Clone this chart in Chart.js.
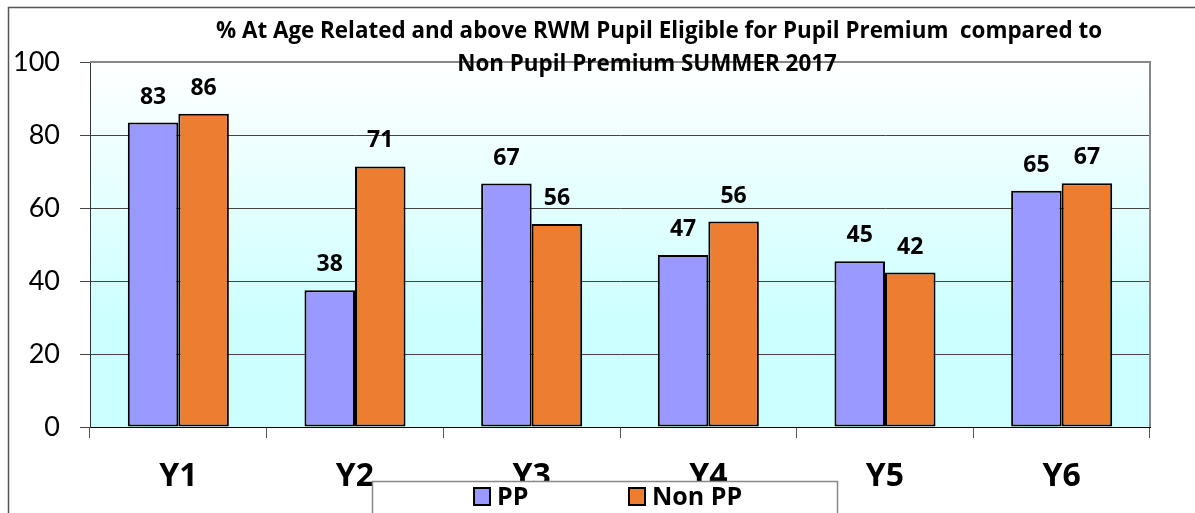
<!DOCTYPE html>
<html>
<head>
<meta charset="utf-8">
<script src="https://cdn.jsdelivr.net/npm/chart.js@4"></script>
<style>
  body { margin: 0; background: #fff; }
  canvas { display: block; }
</style>
</head>
<body>
<canvas id="chart" width="1195" height="513"></canvas>
<script>
// % at age related and above RWM, PP vs Non PP, summer 2017

var years = ['Y1', 'Y2', 'Y3', 'Y4', 'Y5', 'Y6'];
var ppValues = [83.4, 37.5, 66.7, 47.1, 45.4, 64.7];
var nonPpValues = [85.8, 71.4, 55.6, 56.3, 42.3, 66.8];
var yTicks = [0, 20, 40, 60, 80, 100];
var titleLines = ['% At Age Related and above RWM Pupil Eligible for Pupil Premium  compared to',
                  'Non Pupil Premium SUMMER 2017'];

var FONT = 'Lato, "Open Sans", sans-serif';
var BOLD_FONT = '"Open Sans", Lato, sans-serif';

// plot area background, outer frame, plot border
var backdrop = {
  id: 'backdrop',
  beforeDraw: function (chart) {
    var c = chart.ctx, a = chart.chartArea;
    c.save();
    var g = c.createLinearGradient(0, a.top, 0, a.bottom);
    g.addColorStop(0, '#ffffff');
    g.addColorStop(0.72, '#ccffff');
    g.addColorStop(1, '#ccffff');
    c.fillStyle = g;
    c.fillRect(a.left, a.top, a.right - a.left, a.bottom - a.top);
    // outer chart frame
    c.strokeStyle = '#555';
    c.lineWidth = 1.5;
    c.beginPath();
    c.moveTo(8.5, 520);
    c.lineTo(8.5, 7.5);
    c.lineTo(1200, 7.5);
    c.stroke();
    c.restore();
  },
  afterDatasetsDraw: function (chart) {
    var c = chart.ctx, a = chart.chartArea;
    c.save();
    c.strokeStyle = '#888';
    c.lineWidth = 2;
    c.beginPath();
    c.moveTo(a.left, a.top);
    c.lineTo(a.right, a.top);
    c.lineTo(a.right, a.bottom);
    c.stroke();
    // value labels
    c.fillStyle = '#000';
    c.font = 'bold 23px ' + BOLD_FONT;
    c.textAlign = 'center';
    c.textBaseline = 'alphabetic';
    chart.data.datasets.forEach(function (ds, i) {
      chart.getDatasetMeta(i).data.forEach(function (bar, j) {
        c.fillText(Math.round(ds.data[j]), bar.x, bar.y - 19);
      });
    });
    c.restore();
  },
  afterDraw: function (chart) {
    var c = chart.ctx;
    c.save();
    c.fillStyle = '#000';
    // fit first title line to the width it has in the original
    c.font = 'bold 20px ' + BOLD_FONT;
    var size = 20 * 888 / c.measureText(titleLines[0]).width;
    c.font = 'bold ' + size.toFixed(1) + 'px ' + BOLD_FONT;
    c.textAlign = 'center';
    c.textBaseline = 'middle';
    c.fillText(titleLines[0], 659, 32);
    c.fillText(titleLines[1], 647, 65);

    // legend box
    c.fillStyle = '#fff';
    c.fillRect(372, 481, 465, 40);
    c.strokeStyle = '#888';
    c.lineWidth = 1.5;
    c.strokeRect(372.5, 481.5, 465, 40);
    var items = [
      { x: 474, label: 'PP', color: '#9999ff' },
      { x: 629, label: 'Non PP', color: '#ed7d31' }
    ];
    c.font = 'bold 25px ' + BOLD_FONT;
    c.textAlign = 'left';
    items.forEach(function (it) {
      c.fillStyle = it.color;
      c.fillRect(it.x, 488, 16, 17);
      c.strokeStyle = '#000';
      c.lineWidth = 2;
      c.strokeRect(it.x, 488, 16, 17);
      c.fillStyle = '#000';
      c.fillText(it.label, it.x + 23, 498);
    });
    c.restore();
  }
};

new Chart(document.getElementById('chart'), {
  type: 'bar',
  data: {
    labels: years,
    datasets: [
      { label: 'PP', data: ppValues, backgroundColor: '#9999ff', borderColor: '#000', borderWidth: 2, borderSkipped: false },
      { label: 'Non PP', data: nonPpValues, backgroundColor: '#ed7d31', borderColor: '#000', borderWidth: 2, borderSkipped: false }
    ]
  },
  options: {
    responsive: false,
    devicePixelRatio: 1,
    animation: false,
    layout: { padding: { top: 62, right: 45, left: 0, bottom: 0 } },
    datasets: { bar: { categoryPercentage: 0.572, barPercentage: 1 } },
    plugins: { legend: { display: false }, title: { display: false }, tooltip: { enabled: false } },
    scales: {
      x: {
        afterFit: function (s) { s.height = 86; },
        grid: { offset: true, drawOnChartArea: false, drawTicks: true, tickLength: 11, color: '#555' },
        border: { color: '#000', width: 1 },
        ticks: { color: '#000', font: { family: BOLD_FONT, size: 32, weight: 'bold' }, padding: 20 }
      },
      y: {
        min: 0, max: 100,
        afterFit: function (s) { s.width = 90; },
        afterBuildTicks: function (s) { s.ticks = yTicks.map(function (v) { return { value: v }; }); },
        grid: { color: '#444', lineWidth: 1, tickLength: 10 },
        border: { color: '#333', width: 1 },
        ticks: { color: '#000', font: { family: FONT, size: 27 }, padding: 20 }
      }
    }
  },
  plugins: [backdrop]
});
</script>
</body>
</html>
